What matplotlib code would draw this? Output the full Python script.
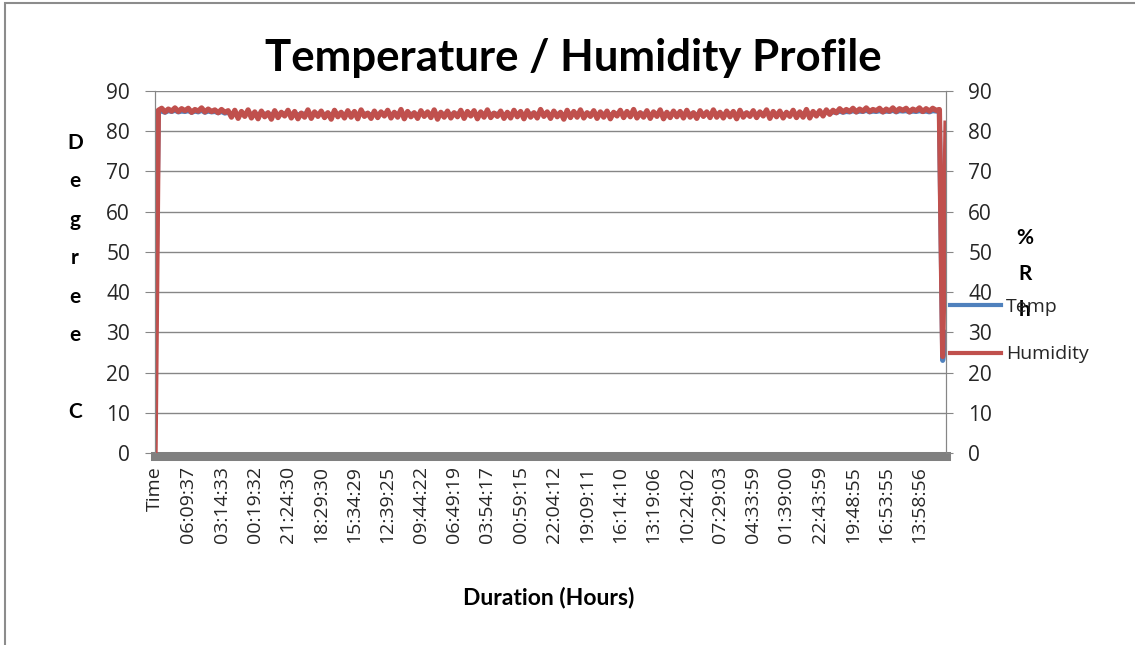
import matplotlib
matplotlib.use("Agg")
import matplotlib.pyplot as plt
from matplotlib.lines import Line2D
from matplotlib.patches import Rectangle

# time-stamp labels shown under the category axis (one every 10 samples)
TICK_LABELS = [
    "Time", "06:09:37", "03:14:33", "00:19:32", "21:24:30", "18:29:30",
    "15:34:29", "12:39:25", "09:44:22", "06:49:19", "03:54:17", "00:59:15",
    "22:04:12", "19:09:11", "16:14:10", "13:19:06", "10:24:02", "07:29:03",
    "04:33:59", "01:39:00", "22:43:59", "19:48:55", "16:53:55", "13:58:56",
]
TICK_STEP = 10

# humidity (%Rh)
humidity = [
    0.0, 85.2, 85.7, 84.8, 85.5, 85.0, 85.8, 84.9, 85.6, 85.1,
    85.7, 84.7, 85.4, 85.0, 85.8, 84.8, 85.5, 84.9, 85.3, 84.6,
    85.4, 84.7, 85.1, 83.5, 85.2, 83.2, 84.9, 83.7, 85.3, 83.3,
    84.8, 83.1, 85.0, 83.6, 84.6, 83.0, 85.1, 83.4, 84.7, 83.8,
    85.2, 83.3, 84.9, 83.1, 84.5, 83.5, 85.3, 83.2, 84.8, 83.7,
    85.0, 83.4, 84.6, 83.0, 85.2, 83.6, 84.7, 83.3, 85.1, 83.5,
    84.9, 83.1, 85.3, 83.7, 84.5, 83.2, 85.0, 83.4, 84.8, 83.8,
    85.2, 83.3, 84.7, 83.5, 85.4, 83.1, 84.9, 83.6, 84.6, 83.2,
    85.1, 83.7, 84.8, 83.4, 85.3, 83.0, 84.7, 83.5, 85.0, 83.3,
    84.6, 83.6, 85.2, 83.2, 84.9, 83.8, 85.1, 83.1, 84.8, 83.5,
    85.3, 83.4, 84.5, 83.7, 85.0, 83.2, 84.7, 83.3, 85.2, 83.6,
    84.9, 83.1, 85.1, 83.5, 84.6, 83.3, 85.4, 83.7, 84.8, 83.2,
    85.0, 83.6, 84.7, 83.0, 85.2, 83.4, 84.9, 83.5, 85.3, 83.3,
    84.6, 83.7, 85.1, 83.2, 84.8, 83.5, 85.0, 83.1, 84.7, 83.8,
    85.2, 83.4, 84.9, 83.6, 85.4, 83.3, 84.6, 83.5, 85.1, 83.2,
    84.8, 83.7, 85.3, 83.1, 84.7, 83.4, 85.0, 83.6, 84.9, 83.3,
    85.2, 83.5, 84.6, 83.2, 85.1, 83.7, 84.8, 83.4, 85.3, 83.5,
    84.7, 83.3, 85.0, 83.6, 84.9, 83.1, 85.2, 83.5, 84.6, 83.7,
    85.1, 83.4, 84.8, 83.8, 85.3, 83.2, 84.9, 83.6, 85.0, 83.3,
    84.7, 83.7, 85.2, 83.4, 84.8, 83.5, 85.4, 83.3, 84.9, 83.8,
    85.1, 83.8, 85.3, 84.2, 85.2, 84.6, 85.6, 84.8, 85.4, 84.9,
    85.7, 84.8, 85.5, 85.0, 85.8, 84.9, 85.4, 85.1, 85.7, 84.8,
    85.5, 85.0, 85.8, 84.9, 85.6, 85.2, 85.7, 84.8, 85.5, 85.1,
    85.8, 84.9, 85.6, 85.0, 85.7, 85.2, 85.4, 24.0, 82.0,
]

# temperature (deg C), mostly hidden behind the humidity trace
temperature = [
    20.0, 84.8, 85.0, 84.7, 85.1, 84.9, 85.2, 84.8, 85.0, 84.9,
    85.1, 84.7, 85.0, 84.8, 85.2, 84.7, 85.0, 84.8, 84.9, 84.6,
    84.9, 84.5, 84.7, 84.2, 84.6, 84.0, 84.5, 84.2, 84.7, 84.1,
    84.5, 84.0, 84.6, 84.2, 84.4, 84.0, 84.6, 84.1, 84.4, 84.3,
    84.6, 84.1, 84.5, 84.0, 84.4, 84.2, 84.7, 84.0, 84.5, 84.2,
    84.5, 84.1, 84.4, 84.0, 84.6, 84.2, 84.4, 84.1, 84.6, 84.2,
    84.5, 84.0, 84.7, 84.2, 84.4, 84.0, 84.5, 84.1, 84.5, 84.3,
    84.6, 84.1, 84.4, 84.2, 84.7, 84.0, 84.5, 84.2, 84.4, 84.0,
    84.6, 84.2, 84.5, 84.1, 84.7, 84.0, 84.4, 84.2, 84.5, 84.1,
    84.4, 84.2, 84.6, 84.0, 84.5, 84.3, 84.6, 84.0, 84.5, 84.2,
    84.7, 84.1, 84.4, 84.2, 84.5, 84.0, 84.4, 84.1, 84.6, 84.2,
    84.5, 84.0, 84.6, 84.2, 84.4, 84.1, 84.7, 84.2, 84.5, 84.0,
    84.5, 84.2, 84.4, 84.0, 84.6, 84.1, 84.5, 84.2, 84.7, 84.1,
    84.4, 84.2, 84.6, 84.0, 84.5, 84.2, 84.5, 84.0, 84.4, 84.3,
    84.6, 84.1, 84.5, 84.2, 84.7, 84.1, 84.4, 84.2, 84.6, 84.0,
    84.5, 84.2, 84.7, 84.0, 84.4, 84.1, 84.5, 84.2, 84.5, 84.1,
    84.6, 84.2, 84.4, 84.0, 84.6, 84.2, 84.5, 84.1, 84.7, 84.2,
    84.4, 84.1, 84.5, 84.2, 84.5, 84.0, 84.6, 84.2, 84.4, 84.2,
    84.6, 84.1, 84.5, 84.3, 84.7, 84.0, 84.5, 84.2, 84.5, 84.1,
    84.4, 84.2, 84.6, 84.1, 84.5, 84.2, 84.7, 84.1, 84.5, 84.3,
    84.6, 84.3, 84.8, 84.5, 84.8, 84.6, 85.0, 84.7, 84.9, 84.8,
    85.1, 84.8, 85.0, 84.9, 85.2, 84.8, 85.0, 84.9, 85.1, 84.8,
    85.0, 84.9, 85.2, 84.8, 85.1, 85.0, 85.1, 84.8, 85.0, 84.9,
    85.1, 84.9, 85.0, 84.8, 85.1, 85.0, 85.0, 23.0, 30.0,
]

RED = "#C0504D"
BLUE = "#4F81BD"
GRID = "#868686"
TXT = "#262626"

plt.rcParams["font.family"] = ["Open Sans", "DejaVu Sans"]

fig = plt.figure(figsize=(11.35, 6.45), dpi=100)
ax = fig.add_axes([0.1366, 0.2977, 0.6969, 0.5612])
ax2 = ax.twinx()

x = list(range(len(humidity)))
ax.plot(x, temperature, color=BLUE, lw=3.6, solid_joinstyle="round")
ax2.plot(x, humidity, color=RED, lw=3.8, solid_joinstyle="round")

for a in (ax, ax2):
    a.set_ylim(0, 90)
    a.set_yticks(range(0, 91, 10))
    a.set_xlim(0, len(humidity) - 1)
    a.spines["top"].set_visible(False)
    a.spines["left"].set_color(GRID)
    a.spines["right"].set_color(GRID)

ax.yaxis.grid(True, color=GRID, lw=1)
ax.set_axisbelow(True)
ax.spines["bottom"].set_color("#808080")
ax.spines["bottom"].set_linewidth(6.5)
ax.spines["bottom"].set_position(("outward", 2.5))
ax2.spines["bottom"].set_visible(False)

ax.set_xticks(range(0, len(TICK_LABELS) * TICK_STEP, TICK_STEP))
ax.set_xticklabels(TICK_LABELS, rotation=90, fontsize=14, color=TXT)
ax.tick_params(axis="x", length=0, pad=7)
ax.tick_params(axis="y", length=7, color=GRID, pad=11, labelsize=15, labelcolor=TXT)
ax2.tick_params(axis="y", length=5, color=GRID, pad=11, labelsize=15, labelcolor=TXT)

fig.text(0.505, 0.91, "Temperature / Humidity Profile", ha="center", va="center",
         fontsize=31.5, fontweight="bold", family="Lato", color="black")
fig.text(0.066, 0.57, "D\ne\ng\nr\ne\ne\n\nC", ha="center", va="center",
         fontsize=15, fontweight="bold", family="Lato", linespacing=2.15)
fig.text(0.903, 0.575, "%\nR\nh", ha="center", va="center",
         fontsize=15, fontweight="bold", family="Lato", linespacing=2.0)
fig.text(0.483, 0.074, "Duration (Hours)", ha="center", va="center",
         fontsize=16.5, fontweight="bold", family="Lato")

handles = [Line2D([], [], color=BLUE, lw=3), Line2D([], [], color=RED, lw=3)]
fig.legend(handles, ["Temp", "Humidity"], loc="center left", bbox_to_anchor=(0.822, 0.487),
           frameon=False, fontsize=14, handlelength=2.6, handletextpad=0.25,
           labelspacing=1.5, labelcolor=TXT)

# chart area border (only top and left edges fall inside the image)
fig.patches.append(Rectangle((5 / 1135, -0.05), 1.2, 0.995 + 0.05, transform=fig.transFigure,
                             fill=False, edgecolor="#8C8C8C", lw=1.5, clip_on=False))

fig.savefig("out.png", dpi=100)
